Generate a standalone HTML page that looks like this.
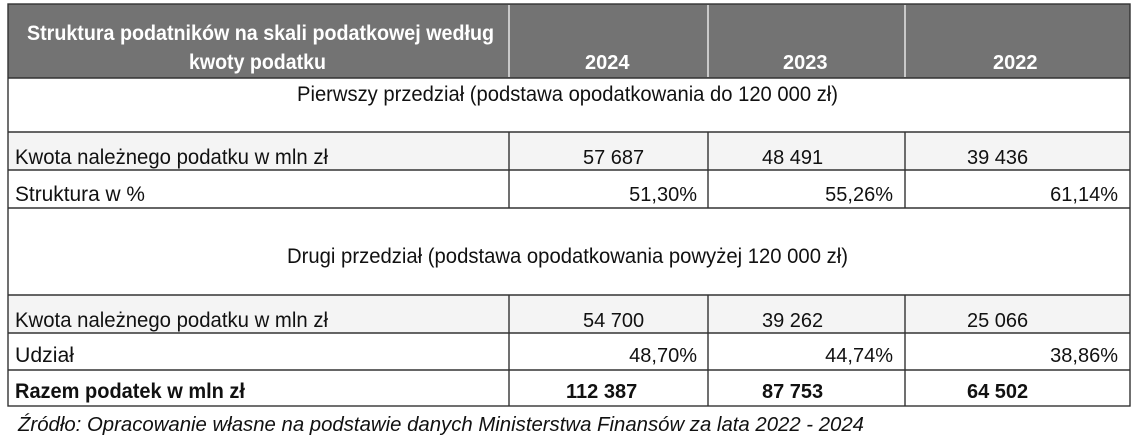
<!DOCTYPE html>
<html><head><meta charset="utf-8">
<style>
html,body{margin:0;padding:0;background:#fff;width:1134px;height:444px;overflow:hidden}
svg{display:block}
text{font-family:"Liberation Sans Narrow","Liberation Sans",sans-serif;fill:#111}
</style></head>
<body>
<svg id="t" width="1134" height="444" viewBox="0 0 1134 444">
  <rect x="8" y="4" width="1122" height="74" fill="#737373"/>
  <rect x="8" y="132" width="1122" height="38" fill="#f4f4f4"/>
  <rect x="8" y="295" width="1122" height="38" fill="#f4f4f4"/>
  <g stroke="#e6e6e6" stroke-width="1.5">
    <line x1="509" y1="5" x2="509" y2="77"/><line x1="708" y1="5" x2="708" y2="77"/><line x1="905" y1="5" x2="905" y2="77"/>
  </g>
  <g stroke="#333" stroke-width="1.4" fill="none">
    <rect x="8" y="4" width="1122" height="402"/>
    <line x1="8" y1="78" x2="1130" y2="78"/>
    <line x1="8" y1="132" x2="1130" y2="132"/>
    <line x1="8" y1="170" x2="1130" y2="170"/>
    <line x1="8" y1="208" x2="1130" y2="208"/>
    <line x1="8" y1="295" x2="1130" y2="295"/>
    <line x1="8" y1="333" x2="1130" y2="333"/>
    <line x1="8" y1="370" x2="1130" y2="370"/>
    <line x1="509" y1="132" x2="509" y2="208"/><line x1="708" y1="132" x2="708" y2="208"/><line x1="905" y1="132" x2="905" y2="208"/>
    <line x1="509" y1="295" x2="509" y2="406"/><line x1="708" y1="295" x2="708" y2="406"/><line x1="905" y1="295" x2="905" y2="406"/>
  </g>
  <text x="27" y="40" font-size="21" font-weight="bold" style="fill:#fff" textLength="467" lengthAdjust="spacingAndGlyphs">Struktura podatników na skali podatkowej według</text>
  <text x="189" y="69" font-size="21" font-weight="bold" style="fill:#fff" textLength="137" lengthAdjust="spacingAndGlyphs">kwoty podatku</text>
  <text x="297" y="101" font-size="21" textLength="541" lengthAdjust="spacingAndGlyphs">Pierwszy przedział (podstawa opodatkowania do 120 000 zł)</text>
  <text x="287" y="263" font-size="21" textLength="561" lengthAdjust="spacingAndGlyphs">Drugi przedział (podstawa opodatkowania powyżej 120 000 zł)</text>
  <text x="15" y="164" font-size="21" textLength="313" lengthAdjust="spacingAndGlyphs">Kwota należnego podatku w mln zł</text>
  <text x="15" y="201" font-size="21" textLength="130" lengthAdjust="spacingAndGlyphs">Struktura w %</text>
  <text x="15" y="327" font-size="21" textLength="313" lengthAdjust="spacingAndGlyphs">Kwota należnego podatku w mln zł</text>
  <text x="15" y="362" font-size="21" textLength="59" lengthAdjust="spacingAndGlyphs">Udział</text>
  <text x="15" y="398" font-size="21" font-weight="bold" textLength="230" lengthAdjust="spacingAndGlyphs">Razem podatek w mln zł</text>
  <text x="18" y="431" font-size="20" font-style="italic" style="font-family:'Liberation Sans',sans-serif" textLength="846" lengthAdjust="spacingAndGlyphs">Źródło: Opracowanie własne na podstawie danych Ministerstwa Finansów za lata 2022 - 2024</text>
  <g id="cells"></g>
</svg>
<script>
const years = ["2024", "2023", "2022"];
const kwota1 = ["57 687", "48 491", "39 436"];
const share1 = ["51,30%", "55,26%", "61,14%"];
const kwota2 = ["54 700", "39 262", "25 066"];
const share2 = ["48,70%", "44,74%", "38,86%"];
const total = ["112 387", "87 753", "64 502"];

const NS = "http://www.w3.org/2000/svg";
const g = document.getElementById("cells");
const colLeft = [583, 762, 967];
const colRight = [697, 893, 1118];
const yearX = [585, 783, 993];
function add(txt, x, y, anchor, bold, white, name, size) {
  const t = document.createElementNS(NS, "text");
  t.setAttribute("x", x);
  t.setAttribute("y", y);
  t.setAttribute("font-size", size);
  t.setAttribute("text-anchor", anchor);
  if (bold) t.setAttribute("font-weight", "bold");
  if (white) t.setAttribute("style", "fill:#fff");
  t.textContent = txt;
  
  
  g.appendChild(t);
}
for (let i = 0; i < 3; i++) {
  add(years[i], yearX[i], 69, "start", true, true, "year-header", "20");
  add(kwota1[i], colLeft[i], 164, "start", false, false, "kwota-1-value", "20");
  add(share1[i], colRight[i], 201, "end", false, false, "struktura-value", "20");
  add(kwota2[i], colLeft[i], 327, "start", false, false, "kwota-2-value", "20");
  add(share2[i], colRight[i], 362, "end", false, false, "udzial-value", "20");
  add(total[i], colLeft[i] - (i === 0 ? 17 : 0), 398, "start", true, false, "total-value", "20");
}
</script>
</body></html>
